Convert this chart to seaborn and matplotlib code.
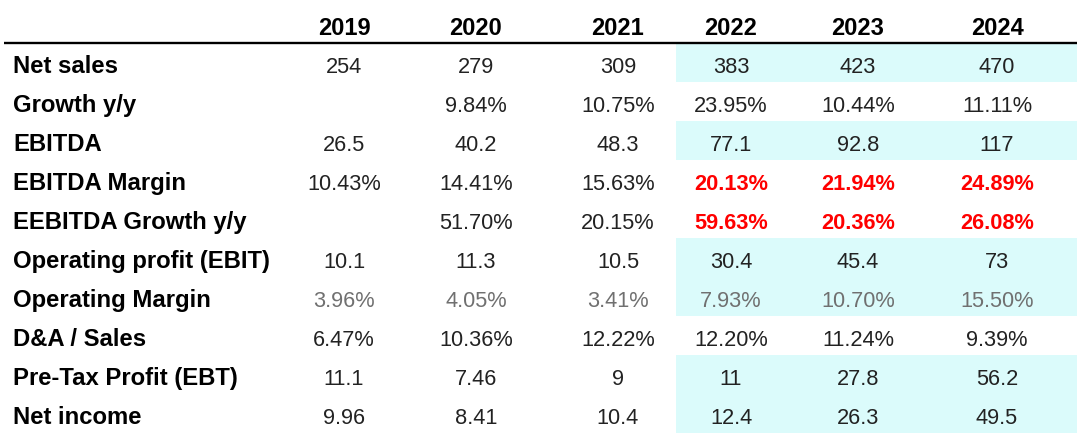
import numpy as np
import pandas as pd
import matplotlib
matplotlib.use("Agg")
import matplotlib.pyplot as plt
from matplotlib.colors import ListedColormap
import seaborn as sns

# table data
years = ["2019", "2020", "2021", "2022", "2023", "2024"]
row_labels = ["Net sales", "Growth y/y", "EBITDA", "EBITDA Margin", "EEBITDA Growth y/y",
              "Operating profit (EBIT)", "Operating Margin", "D&A / Sales",
              "Pre-Tax Profit (EBT)", "Net income"]

net_sales = [254, 279, 309, 383, 423, 470]
growth = [None, 9.84, 10.75, 23.95, 10.44, 11.11]
ebitda = [26.5, 40.2, 48.3, 77.1, 92.8, 117]
ebitda_margin = [10.43, 14.41, 15.63, 20.13, 21.94, 24.89]
ebitda_growth = [None, 51.70, 20.15, 59.63, 20.36, 26.08]
ebit = [10.1, 11.3, 10.5, 30.4, 45.4, 73]
op_margin = [3.96, 4.05, 3.41, 7.93, 10.70, 15.50]
da_sales = [6.47, 10.36, 12.22, 12.20, 11.24, 9.39]
ebt = [11.1, 7.46, 9, 11, 27.8, 56.2]
net_income = [9.96, 8.41, 10.4, 12.4, 26.3, 49.5]

rows = [net_sales, growth, ebitda, ebitda_margin, ebitda_growth,
        ebit, op_margin, da_sales, ebt, net_income]
is_pct = [False, True, False, True, True, False, True, True, False, False]

# forecast columns (2022-2024) shading / red emphasis
forecast_years = ["2022", "2023", "2024"]
shaded_rows = ["Net sales", "EBITDA", "Operating profit (EBIT)", "Operating Margin",
               "Pre-Tax Profit (EBT)", "Net income"]
red_rows = ["EBITDA Margin", "EEBITDA Growth y/y"]
gray_rows = ["Operating Margin"]

# layout (pixels)
W, H = 1077, 435
col_x = [344, 476, 618, 731, 858, 997]
label_x = 13
row_top, row_h = 44.5, 38.95
shade_left = 676

sns.set_theme(style="white")
plt.rcParams["font.family"] = ["Liberation Sans", "DejaVu Sans"]

fig = plt.figure(figsize=(W / 100, H / 100), dpi=100)

# shading via heatmap over the forecast columns
shade = pd.DataFrame([[1 if r in shaded_rows else 0 for _ in forecast_years] for r in row_labels],
                     index=row_labels, columns=forecast_years)
table_h = row_h * len(row_labels)
hax = fig.add_axes([shade_left / W, (H - row_top - table_h) / H,
                    (W - shade_left) / W, table_h / H])
sns.heatmap(shade, ax=hax, cmap=ListedColormap(["white", "#dbfbfb"]), vmin=0, vmax=1,
            cbar=False, linewidths=0, xticklabels=False, yticklabels=False)
hax.set_axis_off()

# text layer in pixel coordinates
ax = fig.add_axes([0, 0, 1, 1])
ax.patch.set_alpha(0)
ax.set_xlim(0, W)
ax.set_ylim(H, 0)
ax.set_axis_off()

for x, yr in zip(col_x, years):
    ax.text(x, 35, yr, ha="center", va="baseline", fontsize=17, fontweight="bold", color="black")

ax.plot([4, W], [43.8, 43.8], color="black", lw=1.7, solid_capstyle="butt")


def fmt(v, pct):
    if v is None:
        return ""
    return f"{v:.2f}%" if pct else f"{v:.3g}"


for i, (lab, vals, pct) in enumerate(zip(row_labels, rows, is_pct)):
    base = row_top + row_h * (i + 0.5) + 9
    ax.text(label_x, base, lab, ha="left", va="baseline", fontsize=17.2,
            fontweight="bold", color="black")
    for x, yr, v in zip(col_x, years, vals):
        color, weight = "#222222", "normal"
        if lab in gray_rows:
            color = "#707070"
        if lab in red_rows and yr in forecast_years:
            color, weight = "#ff0000", "bold"
        ax.text(x, base, fmt(v, pct), ha="center", va="baseline", fontsize=15.7,
                fontweight=weight, color=color)

fig.savefig("out.png", dpi=100, facecolor="white")
